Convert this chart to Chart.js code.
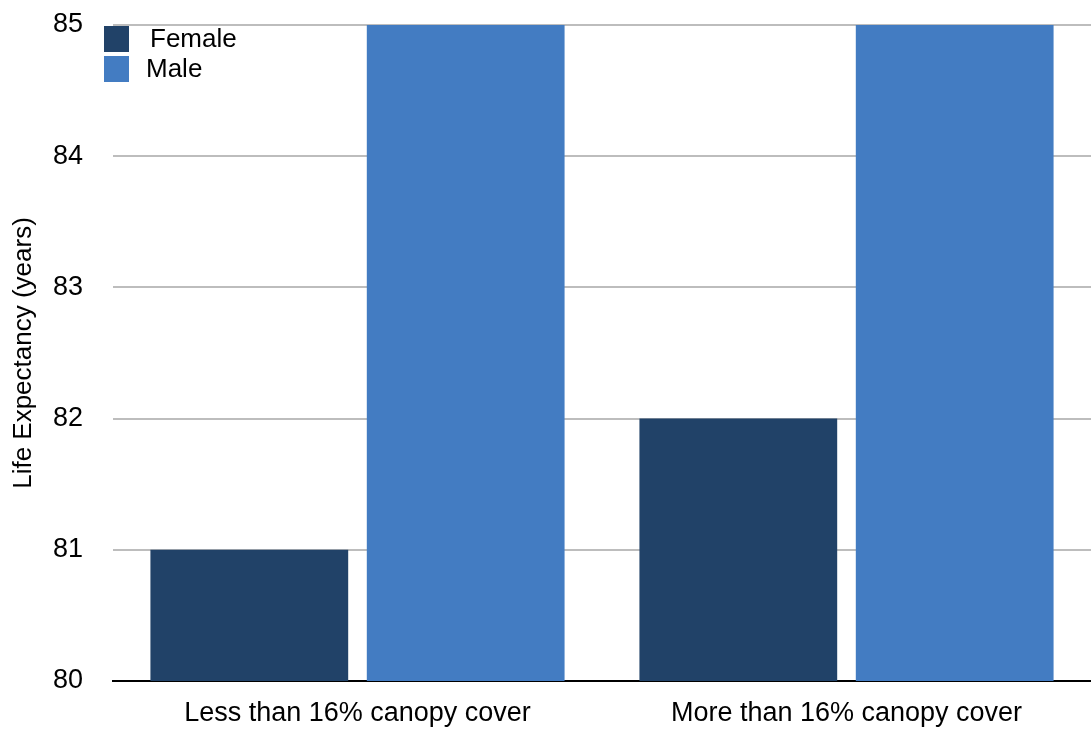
<!DOCTYPE html>
<html>
<head>
    <title>Life Expectancy by Canopy Cover</title>
    <style>
        body {
            margin: 0;
            background-color: #ffffff;
        }
        #wrap {
            width: 1091px;
            height: 729px;
        }
    </style>
</head>
<body>
    <div id="wrap">
        <canvas id="chartCanvas"></canvas>
    </div>

    <script src="https://cdn.jsdelivr.net/npm/chart.js"></script>
    <script>
        const categories = ['Less than 16% canopy cover', 'More than 16% canopy cover'];
        const femaleValues = [81, 82];
        const maleValues = [85, 85];
        const yTicks = [80, 81, 82, 83, 84, 85];

        const FONT = '"Liberation Sans", Arial, sans-serif';

        // draws the legend inside the plot, top-left, like the original
        const insideLegend = {
            id: 'insideLegend',
            afterDraw(chart) {
                const ctx = chart.ctx;
                const left = chart.chartArea.left - 9;
                const top = chart.chartArea.top + 1;
                ctx.save();
                ctx.font = '26px ' + FONT;
                ctx.textBaseline = 'middle';
                chart.data.datasets.forEach((ds, i) => {
                    const y = top + i * 30;
                    ctx.fillStyle = ds.backgroundColor;
                    ctx.fillRect(left, y, 25, 26);
                    ctx.fillStyle = '#000000';
                    ctx.fillText(ds.label, left + (i === 0 ? 46 : 42), y + 14);
                });
                ctx.restore();
            }
        };

        new Chart(document.getElementById('chartCanvas'), {
            type: 'bar',
            data: {
                labels: categories,
                datasets: [
                    {
                        label: 'Female',
                        data: femaleValues,
                        backgroundColor: '#214268',
                        categoryPercentage: 0.885,
                        barPercentage: 0.914
                    },
                    {
                        label: 'Male',
                        data: maleValues,
                        backgroundColor: '#437CC2',
                        categoryPercentage: 0.885,
                        barPercentage: 0.914
                    }
                ]
            },
            options: {
                responsive: true,
                maintainAspectRatio: false,
                animation: false,
                layout: {
                    padding: { top: 25, right: -6, bottom: 0, left: 8 }
                },
                plugins: {
                    legend: { display: false },
                    tooltip: { enabled: false }
                },
                scales: {
                    x: {
                        afterFit(axis) {
                            axis.height = 48;
                            axis.paddingLeft = 0;
                            axis.paddingRight = 0;
                        },
                        grid: { display: false },
                        border: { color: '#000000', width: 2 },
                        ticks: {
                            color: '#000000',
                            padding: 8,
                            font: { family: FONT, size: 27 }
                        }
                    },
                    y: {
                        min: 80,
                        max: 85,
                        afterFit(axis) { axis.width = 105; },
                        afterBuildTicks(axis) {
                            axis.ticks = yTicks.map(v => ({ value: v }));
                        },
                        grid: {
                            color: '#bdbdbd',
                            lineWidth: 2,
                            drawTicks: true,
                            tickLength: 30,
                            tickColor: 'rgba(0,0,0,0)'
                        },
                        border: { display: false },
                        ticks: {
                            color: '#000000',
                            padding: 0,
                            font: { family: FONT, size: 27 }
                        },
                        title: {
                            display: true,
                            text: 'Life Expectancy (years)',
                            color: '#000000',
                            padding: { top: 0, bottom: 10 },
                            font: { family: FONT, size: 26 }
                        }
                    }
                }
            },
            plugins: [insideLegend]
        });
    </script>
</body>
</html>
